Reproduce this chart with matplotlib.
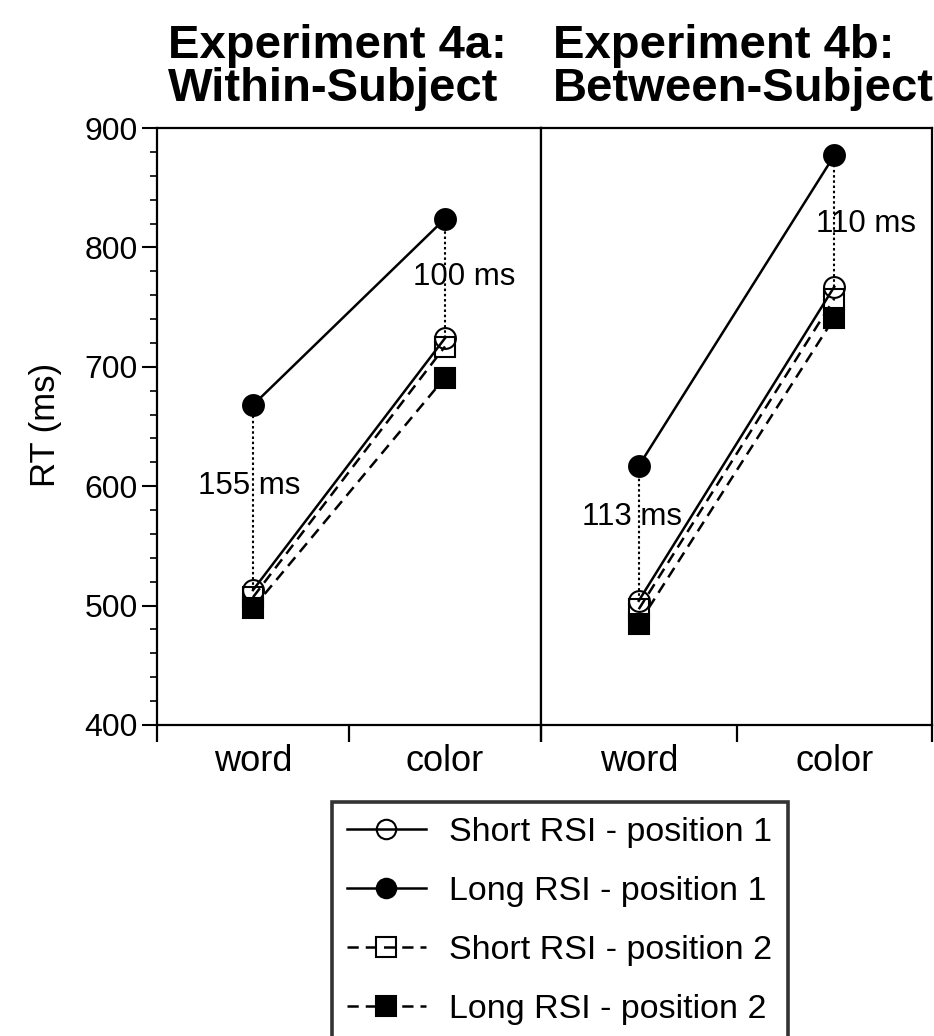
import matplotlib
matplotlib.use("Agg")
import matplotlib.pyplot as plt
from matplotlib.lines import Line2D
from matplotlib.ticker import MultipleLocator

plt.rcParams['font.family'] = ['Liberation Sans', 'DejaVu Sans']

conditions = ["word", "color"]
series_labels = ["Short RSI - position 1", "Long RSI - position 1",
                 "Short RSI - position 2", "Long RSI - position 2"]
panel_titles = ["Experiment 4a:\nWithin-Subject", "Experiment 4b:\nBetween-Subject"]

# mean RT (ms) for word / color trials
exp4a_short_p1 = [513, 724]
exp4a_long_p1 = [668, 824]
exp4a_short_p2 = [507, 717]
exp4a_long_p2 = [498, 691]

exp4b_short_p1 = [504, 767]
exp4b_long_p1 = [617, 877]
exp4b_short_p2 = [497, 757]
exp4b_long_p2 = [485, 741]

y_ticks = [400, 500, 600, 700, 800, 900]

# line / marker style per series
styles = [
    dict(ls='-', marker='o', mfc='none'),
    dict(ls='-', marker='o', mfc='black'),
    dict(ls=(0, (4.5, 2.8)), marker='s', mfc='none'),
    dict(ls=(0, (4.5, 2.8)), marker='s', mfc='black'),
]

fig = plt.figure(figsize=(9.34, 10.36), dpi=100)
ax1 = fig.add_axes([157 / 934, 1 - 725 / 1036, 384 / 934, 597 / 1036])
ax2 = fig.add_axes([541 / 934, 1 - 725 / 1036, 391 / 934, 597 / 1036], sharey=ax1)

panels = [
    (ax1, [exp4a_short_p1, exp4a_long_p1, exp4a_short_p2, exp4a_long_p2],
     [(-0.02, 600), (1.10, 775)]),
    (ax2, [exp4b_short_p1, exp4b_long_p1, exp4b_short_p2, exp4b_long_p2],
     [(-0.035, 574), (1.16, 820)]),
]

x = [0, 1]
for ax, series, label_pos in panels:
    short_p1, long_p1 = series[0], series[1]
    # dotted gap between long and short RSI (position 1)
    for i in x:
        ax.plot([i, i], [short_p1[i], long_p1[i]], ls=(0, (1.2, 1.3)),
                color='black', lw=1.5, zorder=1)
        tx, ty = label_pos[i]
        ax.text(tx, ty, f"{long_p1[i] - short_p1[i]} ms", fontsize=22.5,
                ha='center', va='center', zorder=2)
    # draw back to front so the filled markers sit on top
    for k in [3, 2, 0, 1]:
        st = styles[k]
        ax.plot(x, series[k], color='black', lw=1.8, ls=st['ls'],
                marker=st['marker'], markersize=15, mfc=st['mfc'],
                mec='black', mew=1.5, zorder=3 + k)

    ax.set_xlim(-0.5, 1.5)
    ax.set_xticks(x)
    ax.set_xticklabels(conditions)
    ax.set_xticks([-0.5, 0.5, 1.5], minor=True)
    ax.tick_params(axis='x', which='major', length=0, pad=14, labelsize=26)
    ax.tick_params(axis='x', which='minor', length=12, width=1.6, direction='out')
    for side in ['top', 'bottom', 'left', 'right']:
        ax.spines[side].set_linewidth(1.6)

ax1.set_ylim(400, 900)
ax1.set_yticks(y_ticks)
ax1.yaxis.set_minor_locator(MultipleLocator(20))
ax1.tick_params(axis='y', which='major', length=11, width=1.5, pad=3, labelsize=23)
ax1.tick_params(axis='y', which='minor', length=5, width=1.2)
ax2.tick_params(axis='y', which='both', left=False, labelleft=False)

fig.text(45 / 934, 1 - 425 / 1036, "RT (ms)", rotation=90, fontsize=25,
         ha='center', va='center')

fig.text(168 / 934, 1 - 111 / 1036, panel_titles[0], fontsize=34,
         fontweight='bold', ha='left', va='bottom', linespacing=0.98)
fig.text(553 / 934, 1 - 111 / 1036, panel_titles[1], fontsize=34,
         fontweight='bold', ha='left', va='bottom', linespacing=0.98)

handles = [Line2D([], [], color='black', lw=1.8, ls=st['ls'], marker=st['marker'],
                  markersize=14, mfc=st['mfc'], mec='black', mew=1.5)
           for st in styles]
leg = fig.legend(handles, series_labels, loc='upper left',
                 bbox_to_anchor=(332 / 934, 1 - 802 / 1036),
                 bbox_transform=fig.transFigure, borderaxespad=0, fontsize=24.5,
                 frameon=True, fancybox=False, edgecolor='black',
                 handlelength=2.3, handletextpad=0.7, labelspacing=0.82,
                 borderpad=0.45)
leg.get_frame().set_linewidth(2.6)

fig.savefig("out.png", dpi=100)
